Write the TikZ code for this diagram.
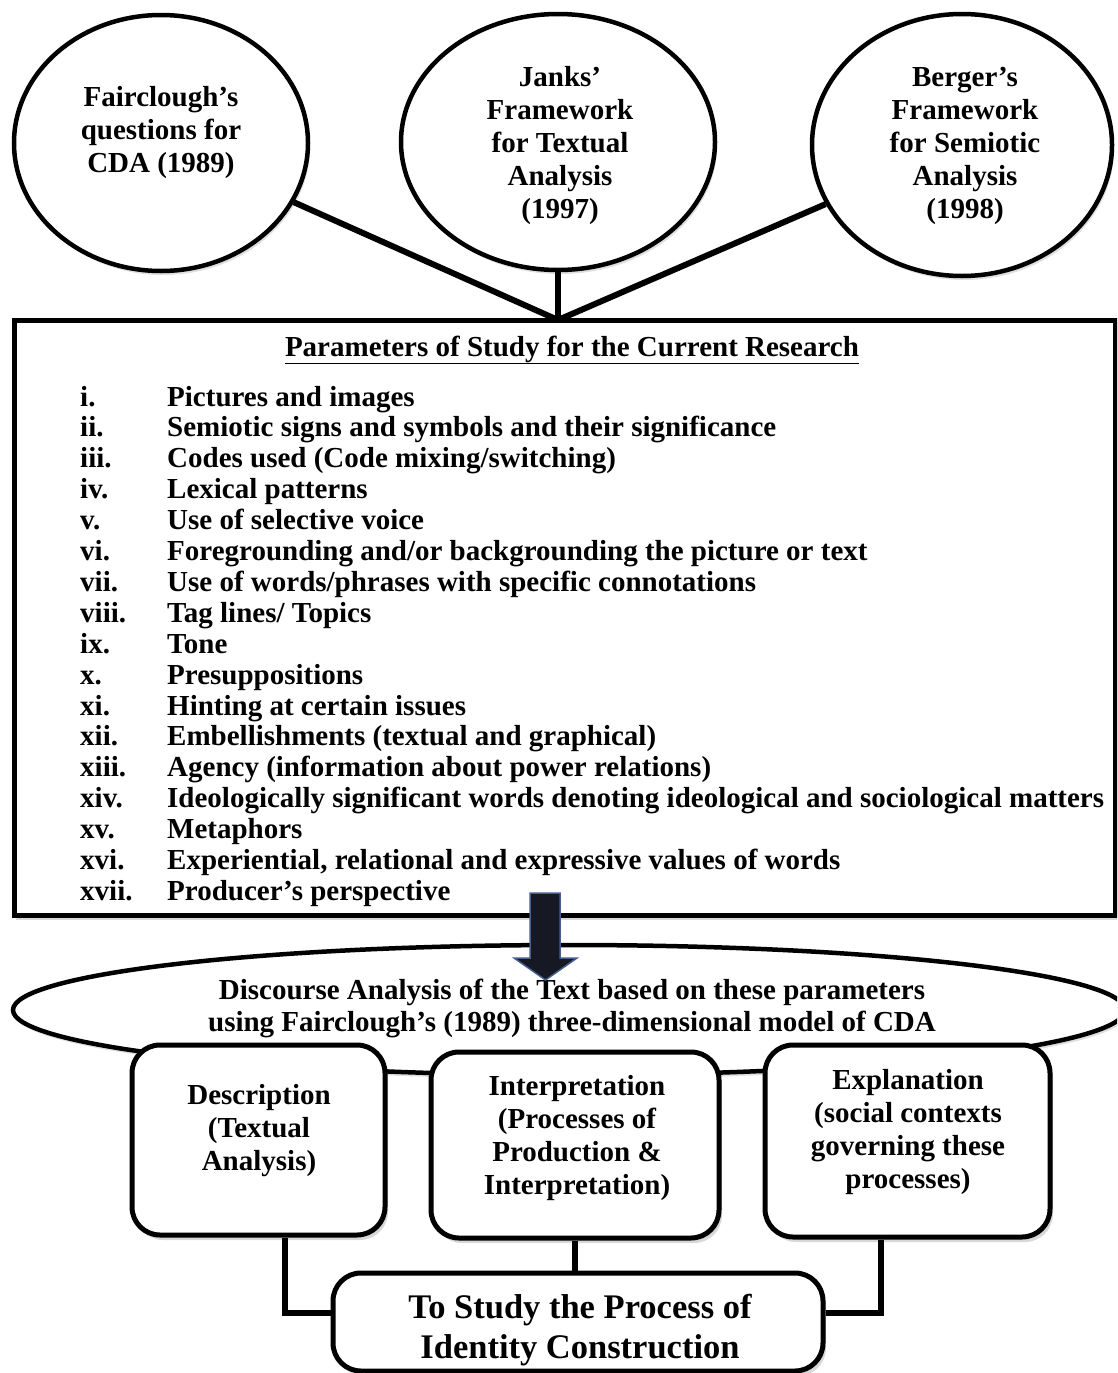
\documentclass[tikz,border=0pt]{standalone}
\usepackage{fontspec}
\setmainfont{Liberation Serif}
\usetikzlibrary{shapes.geometric,shadows}
\definecolor{arrowfill}{RGB}{22,24,36}
\definecolor{arrowedge}{RGB}{70,95,140}
\tikzset{
  oval/.style={ellipse, draw=black, line width=4.5pt, fill=white, inner sep=0pt,
    drop shadow={opacity=0.25, shadow xshift=2pt, shadow yshift=-4pt}},
  mainbox/.style={rectangle, draw=black, line width=5pt, fill=white, inner sep=0pt,
    drop shadow={opacity=0.3, shadow xshift=2pt, shadow yshift=-5pt}},
  rbox/.style={rectangle, draw=black, line width=5pt, rounded corners=28pt, fill=white, inner sep=0pt,
    drop shadow={opacity=0.3, shadow xshift=3pt, shadow yshift=-5pt}},
  link/.style={draw=black, line width=6pt},
  ctxt/.style={font=\bfseries\fontsize{29}{33}\selectfont, align=center, inner sep=0pt},
  itemtxt/.style={font=\bfseries\fontsize{29}{31}\selectfont, inner sep=0pt, anchor=base west},
  etxt/.style={font=\bfseries\fontsize{29}{32}\selectfont, align=center, inner sep=0pt},
  gtxt/.style={font=\bfseries\fontsize{34.5}{40}\selectfont, align=center, inner sep=0pt}
}
\begin{document}
\begin{tikzpicture}[x=1pt,y=-1pt]
\useasboundingbox (0,0) rectangle (1117,1373);
\clip (0,0) rectangle (1117,1373);
\fill[white] (0,0) rectangle (1117,1373);

% top circles
\node[oval, minimum width=294pt, minimum height=256pt] (c1) at (161,143) {};
\node[oval, minimum width=314pt, minimum height=256pt] (c2) at (558,142) {};
\node[oval, minimum width=300pt, minimum height=262pt] (c3) at (962,145) {};
\node[ctxt] (t1) at (161,133) {Fairclough’s\\questions for\\CDA (1989)};
\node[ctxt] (t2) at (560,146) {Janks’\\Framework\\for Textual\\Analysis\\(1997)};
\node[ctxt] (t3) at (965,146) {Berger’s\\Framework\\for Semiotic\\Analysis\\(1998)};

% main parameter box
\node[mainbox, minimum width=1101pt, minimum height=595pt] (pbox) at (564.5,617.5) {};
\coordinate (J) at (558,320);
\draw[link] (c1) -- (J);
\draw[link] (c2) -- (J);
\draw[link] (c3) -- (J);

\node[font=\bfseries\fontsize{29}{31}\selectfont, inner sep=0pt, anchor=base] (title) at (572,356)
  {\underline{Parameters of Study for the Current Research}};

\foreach \r/\t [count=\i] in {
  i./{Pictures and images},
  ii./{Semiotic signs and symbols and their significance},
  iii./{Codes used (Code mixing/switching)},
  iv./{Lexical patterns},
  v./{Use of selective voice},
  vi./{Foregrounding and/or backgrounding the picture or text},
  vii./{Use of words/phrases with specific connotations},
  viii./{Tag lines/ Topics},
  ix./{Tone},
  x./{Presuppositions},
  xi./{Hinting at certain issues},
  xii./{Embellishments (textual and graphical)},
  xiii./{Agency (information about power relations)},
  xiv./{Ideologically significant words denoting ideological and sociological matters},
  xv./{Metaphors},
  xvi./{Experiential, relational and expressive values of words},
  xvii./{Producer’s perspective}} {
  \node[itemtxt] (num\i) at (80,{406+30.9*(\i-1)}) {\r};
  \node[itemtxt] (item\i) at (167,{406+30.9*(\i-1)}) {\t};
}

% discourse ellipse
\node[oval, minimum width=1112pt, minimum height=130pt] (dis) at (569,1010) {};
\node[etxt] (distxt) at (572,1008) {Discourse Analysis of the Text based on these parameters\\using Fairclough’s (1989) three-dimensional model of CDA};

% big arrow from box to ellipse
\draw[fill=arrowfill, draw=arrowedge, line width=1.5pt, line join=miter]
  (530,893) -- (560,893) -- (560,958) -- (577,958) -- (545.5,980) -- (514,958) -- (530,958) -- cycle;

% three dimension boxes
\node[rbox, minimum width=253pt, minimum height=190pt] (desc) at (258.5,1140) {};
\node[rbox, minimum width=288pt, minimum height=186pt] (interp) at (575,1145) {};
\node[rbox, minimum width=285pt, minimum height=192pt] (expl) at (907.5,1141) {};
\node[ctxt] (desctxt) at (259,1131) {Description\\(Textual\\Analysis)};
\node[ctxt] (interptxt) at (577,1138) {Interpretation\\(Processes of\\Production \&\\Interpretation)};
\node[ctxt] (expltxt) at (908,1132.5) {Explanation\\(social contexts\\governing these\\processes)};

% goal box
\node[rbox, minimum width=490pt, minimum height=98pt] (goal) at (578,1322) {};
\node[gtxt] (goaltxt) at (580,1330) {To Study the Process of\\Identity Construction};

% connectors to goal
\draw[link] ([xshift=26.5pt]desc.south) |- ([yshift=9pt]goal.west);
\draw[link] (interp.south) -- (interp.south |- goal.north);
\draw[link] ([xshift=-26.5pt]expl.south) |- ([yshift=9pt]goal.east);
\end{tikzpicture}
\end{document}
